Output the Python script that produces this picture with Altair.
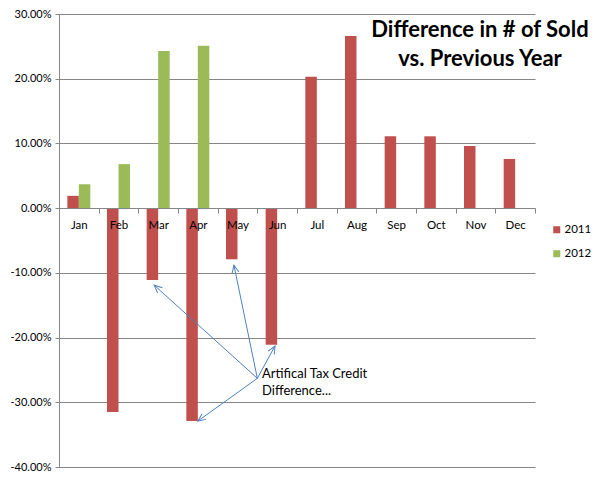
import math
import altair as alt
import pandas as pd

months = ["Jan", "Feb", "Mar", "Apr", "May", "Jun", "Jul", "Aug", "Sep", "Oct", "Nov", "Dec"]
v2011 = [0.019, -0.315, -0.111, -0.329, -0.079, -0.211, 0.203, 0.266, 0.111, 0.111, 0.096, 0.076]
v2012 = [0.037, 0.068, 0.243, 0.251]
y_ticks = [-0.4, -0.3, -0.2, -0.1, 0.0, 0.1, 0.2, 0.3]

# annotation: origin (month-index units, value) and arrow targets
note_lines = ["Artifical Tax Credit", "Difference..."]
note_origin = (5.0, -0.263)
note_text_pos = (5.12, -0.247)
arrow_tx = [2.4, 4.41, 5.445, 3.5]
arrow_ty = [-0.119, -0.088, -0.213, -0.329]

W, H = 476, 453
step = W / 12
ppu = H / 0.7
zero_offset = -round(H * 0.4 / 0.7)

rows = []
for m, v in zip(months, v2011):
    rows.append({"month": m, "year": "2011", "value": v})
for m, v in zip(months, v2012):
    rows.append({"month": m, "year": "2012", "value": v})
df = pd.DataFrame(rows)

arrows = []
for tx, ty in zip(arrow_tx, arrow_ty):
    dx = (tx - note_origin[0]) * step
    dy = -(ty - note_origin[1]) * ppu
    ang = math.degrees(math.atan2(dx, -dy)) % 360
    arrows.append({"x0": note_origin[0], "y0": note_origin[1], "x1": tx, "y1": ty, "ang": ang})
adf = pd.DataFrame(arrows)
tdf = pd.DataFrame([{"x": note_text_pos[0], "y": note_text_pos[1], "t": note_lines}])

yscale = alt.Scale(domain=[-0.4, 0.3], nice=False, zero=False)
font = "Lato"

bars = alt.Chart(df).mark_bar().encode(
    x=alt.X("month:N", sort=months, scale=alt.Scale(paddingInner=0, paddingOuter=0),
            axis=alt.Axis(title=None, orient="bottom", offset=zero_offset, tickBand="extent",
                          tickSize=5, labelPadding=6, labelAngle=0, domainColor="#868686",
                          tickColor="#868686", labelFontSize=11.5, labelColor="black", grid=False,
                          labelFont=font, zindex=1)),
    xOffset=alt.XOffset("year:N", scale=alt.Scale(paddingInner=0, paddingOuter=0.725)),
    y=alt.Y("value:Q", scale=yscale,
            axis=alt.Axis(title=None, values=y_ticks, tickSize=4, domainColor="#868686",
                          tickColor="#868686", gridColor="#868686", labelFontSize=11,
                          labelColor="black", labelFont=font, labelPadding=4, zindex=0,
                          labelExpr="replace(format(datum.value, '.2%'), '\u2212', '-')")),
    color=alt.Color("year:N", scale=alt.Scale(domain=["2011", "2012"], range=["#C0504D", "#9BBB59"]),
                    legend=alt.Legend(title=None, orient="none", legendX=492, legendY=210,
                                      symbolType="square", symbolSize=49, labelFontSize=11.5,
                                      labelFont=font, rowPadding=11, padding=0, labelOffset=2,
                                      symbolStrokeWidth=0)),
)

xq = alt.Scale(domain=[0, 12], nice=False, zero=False)

lines = alt.Chart(adf).mark_rule(color="#4F81BD", strokeWidth=1).encode(
    x=alt.X("x0:Q", scale=xq, axis=None),
    y=alt.Y("y0:Q", scale=yscale),
    x2="x1:Q",
    y2="y1:Q",
)

heads = alt.Chart(adf).mark_point(shape="M-0.45,1L0,0L0.45,1", filled=False, color="#4F81BD",
                                  strokeWidth=1, size=240, opacity=1).encode(
    x=alt.X("x1:Q", scale=xq, axis=None),
    y=alt.Y("y1:Q", scale=yscale),
    angle=alt.Angle("ang:Q", scale=None),
)

note = alt.Chart(tdf).mark_text(align="left", baseline="top", font=font, fontSize=13,
                                lineHeight=17, color="black").encode(
    x=alt.X("x:Q", scale=xq, axis=None),
    y=alt.Y("y:Q", scale=yscale),
    text="t",
)

chart = alt.layer(bars, lines, heads, note).resolve_scale(x="independent").properties(
    width=W, height=H,
    autosize=alt.AutoSizeParams(type="none"),
    padding={"left": 51, "top": 6, "right": 59, "bottom": 6},
    title=alt.TitleParams(text=["Difference in # of Sold", "vs. Previous Year"], anchor="start",
                          align="center", dx=421, dy=63, baseline="top", offset=0,
                          font=font, fontSize=22, fontWeight="bold", lineHeight=29,
                          color="black", frame="group"),
).configure_view(stroke=None).configure_axis(domainWidth=1, tickWidth=1, gridWidth=1)

chart.save("out.html", embed_options={"renderer": "svg", "actions": False})
